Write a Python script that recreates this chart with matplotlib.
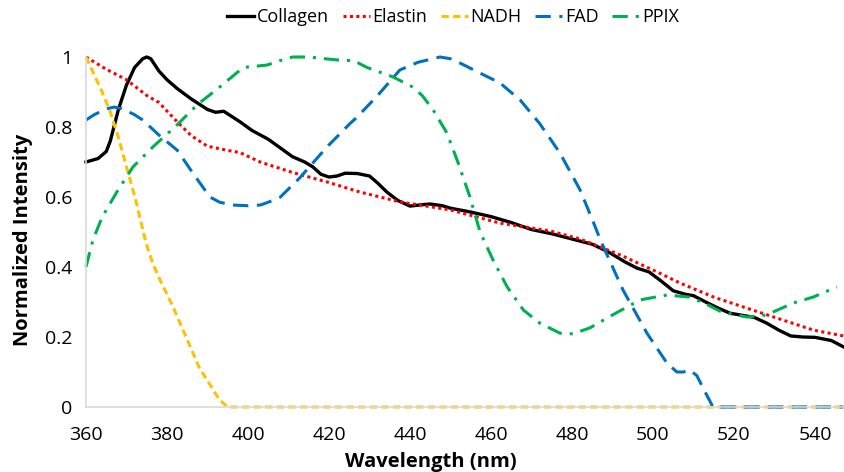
import matplotlib
matplotlib.use("Agg")
import matplotlib.pyplot as plt

# ---------------- data ----------------
collagen_x = [360, 363, 365, 366, 368, 370, 372, 374, 375, 376, 378, 380, 382.5, 386, 390, 392,
              394, 396, 398, 401, 405, 408, 411, 414, 416, 418, 420, 422, 424, 427, 430, 432,
              434.3, 437, 440, 443, 445, 448, 450, 455, 460, 465, 470, 475, 480, 485, 489, 493,
              496, 499, 502, 505, 508, 510, 513, 516, 519, 522, 525, 528, 531, 534, 537, 540,
              544, 547]
collagen_y = [0.70, 0.71, 0.73, 0.76, 0.85, 0.92, 0.97, 0.995, 1.0, 0.995, 0.96, 0.935, 0.91,
              0.88, 0.85, 0.842, 0.845, 0.83, 0.815, 0.79, 0.765, 0.74, 0.715, 0.70, 0.686,
              0.665, 0.657, 0.66, 0.668, 0.667, 0.66, 0.64, 0.614, 0.59, 0.574, 0.578, 0.58,
              0.575, 0.568, 0.557, 0.544, 0.527, 0.507, 0.495, 0.48, 0.465, 0.443, 0.415,
              0.397, 0.386, 0.36, 0.332, 0.322, 0.318, 0.30, 0.283, 0.268, 0.262, 0.256, 0.24,
              0.22, 0.203, 0.20, 0.199, 0.19, 0.172]

elastin_x = [360, 365, 370, 375, 378, 382.5, 386, 390, 395, 398, 403, 411, 419.5, 427.7, 437.5,
             450, 462, 474.6, 482, 492, 501, 506.7, 515, 523, 531.4, 539.5, 547]
elastin_y = [1.0, 0.965, 0.935, 0.89, 0.87, 0.815, 0.775, 0.745, 0.733, 0.727, 0.70, 0.67,
             0.643, 0.614, 0.586, 0.563, 0.526, 0.503, 0.48, 0.434, 0.386, 0.354, 0.314,
             0.283, 0.251, 0.22, 0.203]

nadh_x = [360, 362, 364, 366, 368, 370, 372.3, 374.8, 376.5, 378, 381.5, 384.7, 387.9, 391.4,
          393, 395, 420, 460, 500, 547]
nadh_y = [1.0, 0.95, 0.90, 0.843, 0.77, 0.686, 0.59, 0.469, 0.41, 0.37, 0.286, 0.20, 0.114,
          0.049, 0.02, 0.0, 0.0, 0.0, 0.0, 0.0]

fad_x = [360, 362, 365, 367, 369, 372, 374, 378, 382.5, 386.4, 390.6, 393, 396.3, 400, 403, 405,
         408, 412.8, 419.5, 425.2, 427, 432, 437.5, 442, 447.4, 450, 452.3, 457.3, 462.2,
         467.2, 472, 477, 482, 485.2, 487, 492.6, 498.5, 503.4, 505.9, 507.5, 509, 510.8, 513,
         514.8, 530, 547]
fad_y = [0.82, 0.835, 0.852, 0.857, 0.852, 0.835, 0.82, 0.777, 0.734, 0.668, 0.60, 0.585, 0.577,
         0.575, 0.577, 0.585, 0.60, 0.655, 0.743, 0.81, 0.829, 0.89, 0.963, 0.985, 1.0, 0.995,
         0.983, 0.954, 0.926, 0.877, 0.81, 0.726, 0.62, 0.53, 0.477, 0.334, 0.211, 0.126, 0.10,
         0.10, 0.106, 0.09, 0.04, 0.0, 0.0, 0.0]

ppix_x = [360, 361.7, 364, 367.6, 371.6, 376.5, 382.5, 387.4, 393, 398.8, 404.7, 408, 411, 415,
          419, 423.5, 426, 429.4, 435.8, 440.7, 443, 445.7, 449.1, 451.9, 454.8, 457.3, 460.5,
          464, 468, 472, 477, 480.2, 484.4, 490, 496.8, 503.4, 509, 513, 517, 523.2, 528,
          534.6, 539.5, 545.4]
ppix_y = [0.40, 0.477, 0.543, 0.614, 0.686, 0.743, 0.806, 0.863, 0.914, 0.97, 0.977, 0.99, 1.0,
          1.0, 0.995, 0.99, 0.99, 0.97, 0.943, 0.914, 0.89, 0.849, 0.783, 0.697, 0.60, 0.50,
          0.42, 0.343, 0.277, 0.24, 0.211, 0.209, 0.226, 0.263, 0.306, 0.32, 0.314, 0.295,
          0.271, 0.257, 0.263, 0.297, 0.314, 0.343]

series_names = ["Collagen", "Elastin", "NADH", "FAD", "PPIX"]
x_ticks = [360, 380, 400, 420, 440, 460, 480, 500, 520, 540]
y_ticks = [0, 0.2, 0.4, 0.6, 0.8, 1.0]
y_tick_labels = ["0", "0.2", "0.4", "0.6", "0.8", "1"]

# ---------------- style ----------------
plt.rcParams["font.family"] = ["Open Sans", "DejaVu Sans"]

fig = plt.figure(figsize=(8.45, 4.72), dpi=100)
ax = fig.add_axes([86 / 845, 1 - 407 / 472, 1 - 86 / 845, (407 - 57) / 472])

lw = 2.2
ax.plot(collagen_x, collagen_y, color="black", lw=2.4, ls="-", label=series_names[0],
        clip_on=False, solid_joinstyle="round")
ax.plot(elastin_x, elastin_y, color="#FF0000", lw=lw, ls=(0, (1, 1.1)), label=series_names[1], clip_on=False)
ax.plot(nadh_x, nadh_y, color="#FFC000", lw=lw, ls=(0, (2.4, 1.4)), label=series_names[2], clip_on=False)
ax.plot(fad_x, fad_y, color="#0070C0", lw=lw, ls=(0, (5, 2.8)), label=series_names[3], clip_on=False)
ax.plot(ppix_x, ppix_y, color="#00B050", lw=lw, ls=(0, (5, 2.6, 1, 2.6)), label=series_names[4], clip_on=False)

ax.set_xlim(360, 547.4)
ax.set_ylim(0, 1.0)
ax.set_xticks(x_ticks)
ax.set_yticks(y_ticks)
ax.set_yticklabels(y_tick_labels)
ax.tick_params(axis="both", length=0, labelsize=14, colors="#000000")
ax.tick_params(axis="x", pad=14)
ax.tick_params(axis="y", pad=10)

for s in ["top", "right"]:
    ax.spines[s].set_visible(False)
ax.spines["left"].set_color("#D9D9D9")
ax.spines["bottom"].set_color("#D9D9D9")
ax.spines["left"].set_linewidth(1.2)
ax.spines["bottom"].set_linewidth(1.2)

fig.text(431 / 845, 1 - 462 / 472, "Wavelength (nm)", ha="center", va="center",
         fontsize=14.5, fontweight="bold")
fig.text(23 / 845, 1 - 240 / 472, "Normalized Intensity", ha="center", va="center",
         rotation=90, fontsize=14.5, fontweight="bold")

leg = fig.legend(loc="center", bbox_to_anchor=(453 / 845, 1 - 17 / 472), ncol=5, frameon=False,
                 fontsize=13, handlelength=1.5, handletextpad=0.15, columnspacing=0.75,
                 borderaxespad=0)

fig.savefig("out.png", dpi=100)
